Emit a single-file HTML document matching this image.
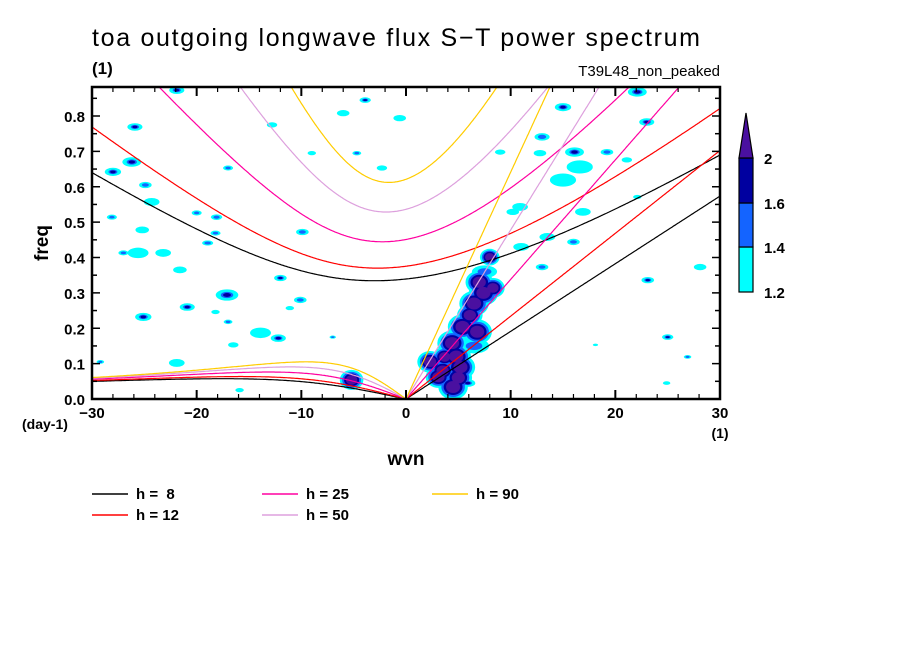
<!DOCTYPE html>
<html><head><meta charset="utf-8"><style>
html,body{margin:0;padding:0;background:#fff;}
svg{display:block;font-family:"Liberation Sans",sans-serif;}
</style></head><body>
<svg id="chart" width="904" height="654" viewBox="0 0 904 654">
<rect width="904" height="654" fill="#fff"/>
<defs><clipPath id="clip"><rect x="92" y="87" width="628" height="312"/></clipPath></defs>
<text x="92" y="46" font-size="25" textLength="608" lengthAdjust="spacing">toa outgoing longwave flux S−T power spectrum</text>
<text x="92" y="74" font-size="17" font-weight="bold">(1)</text>
<text x="720" y="76" font-size="15" text-anchor="end">T39L48_non_peaked</text>
<g id="blobs" clip-path="url(#clip)"></g>
<g id="curves" clip-path="url(#clip)"></g>
<g id="axes"></g>
<text transform="translate(48,243) rotate(-90)" font-size="19" font-weight="bold" text-anchor="middle">freq</text>
<text x="22" y="429" font-size="14" font-weight="bold">(day-1)</text>
<text x="720" y="438" font-size="14" font-weight="bold" text-anchor="middle">(1)</text>
<text x="406" y="465" font-size="19" font-weight="bold" text-anchor="middle">wvn</text>
<g id="legend"></g>
<g id="cbar"></g>
</svg>
<script>
const NS="http://www.w3.org/2000/svg";
const depths=[8,12,25,50,90];
const depthColors=["#000000","#ff0000","#ff00a0","#dda0dd","#ffcc00"];
const xTicks=[-30,-20,-10,0,10,20,30];
const yTicks=[0,0.1,0.2,0.3,0.4,0.5,0.6,0.7,0.8];
const cbarLevels=[1.2,1.4,1.6,2];
const blobS=[-25.9,-26.2,-28.0,-24.9,-24.3,-28.1,-25.2,-25.6,-23.2,-27.0,-21.6,-20.9,-25.1,-21.9,-29.2,-21.9,-20.0,-18.9,-3.9,-0.6,-6.0,-12.8,-17.0,-18.1,-18.2,-19.0,-9.9,-12.0,-17.1,-10.1,-11.1,-18.2,-17.0,-13.9,-12.2,-16.5,-7.0,-15.9,-9.0,-4.7,-2.3,-5.2,
6.5,7.5,2.3,3.1,4.5,4.4,5.4,6.1,7.4,8.3,8.0,5.2,3.7,5.9,6.5,7.0,4.8,3.5,6.8,5.0,
22.1,15.0,13.0,16.1,23.0,19.2,21.1,16.6,15.0,10.9,16.9,13.5,16.0,13.0,28.1,23.1,25.0,26.9,24.9,18.1,22.1,9.0,12.8,10.2,11.0];
const blobF=[0.769,0.670,0.642,0.605,0.557,0.514,0.478,0.413,0.413,0.413,0.365,0.260,0.232,0.102,0.105,0.873,0.526,0.441,0.845,0.794,0.808,0.775,0.653,0.514,0.469,0.441,0.472,0.342,0.294,0.280,0.257,0.246,0.218,0.187,0.172,0.153,0.175,0.025,0.695,0.695,0.653,0.054,
0.15,0.36,0.105,0.062,0.034,0.158,0.204,0.237,0.300,0.314,0.401,0.090,0.119,0.045,0.27,0.33,0.12,0.08,0.19,0.06,
0.868,0.825,0.741,0.698,0.783,0.698,0.676,0.656,0.619,0.543,0.529,0.458,0.444,0.373,0.373,0.336,0.175,0.119,0.045,0.153,0.571,0.698,0.695,0.529,0.43];
const blobLvl=[3,3,3,2,1,2,1,1,1,2,1,3,3,1,2,3,2,2,3,1,1,1,2,2,2,2,2,3,3,2,1,1,2,1,3,1,2,1,1,2,1,4,
2,2,4,4,4,4,4,4,4,4,4,4,4,3,4,4,4,4,4,4,
3,3,2,3,3,2,1,1,1,1,1,1,2,2,1,3,3,2,1,1,1,1,1,1,1];
const blobR=[1.2,1.5,1.3,1.0,1.5,0.8,1.3,2.0,1.5,0.8,1.3,1.2,1.3,1.5,0.6,1.2,0.8,0.8,0.9,1.2,1.2,1.0,0.8,0.9,0.8,0.8,1.0,1.0,1.8,1.0,0.8,0.8,0.7,2.0,1.2,1.0,0.5,0.8,0.8,0.7,1.0,1.2,
2.4,2.0,1.3,1.3,1.5,1.5,1.5,1.3,1.5,1.2,1.0,1.5,1.2,1.2,1.5,1.4,1.5,1.3,1.5,1.4,
1.5,1.3,1.2,1.5,1.2,1.0,1.0,2.5,2.5,1.5,1.5,1.5,1.0,1.0,1.2,1.0,0.9,0.6,0.7,0.5,0.8,1.0,1.2,1.2,1.5];
const X0=92,X1=720,Y0=399,YPER=353.75;
function xs(s){return X0+(s+30)/60*(X1-X0);}
function ys(f){return Y0-f*YPER;}
function el(tag,attrs,parent){const e=document.createElementNS(NS,tag);for(const k in attrs)e.setAttribute(k,attrs[k]);parent.appendChild(e);return e;}
// blobs
const lvlColors=["#00ffff","#1464ff","#0000a0","#4a10a0"];
const lvlScale=[1,0.55,0.35,0.3];
const strongScale=[1.25,1.0,0.8,0.6];
const gB=document.getElementById('blobs');
for(let L=0;L<4;L++){
 for(let i=0;i<blobS.length;i++){
  if(blobLvl[i]<L+1)continue;
  const strong=blobLvl[i]===4;
  const sc=strong?strongScale[L]:lvlScale[L];
  const base=blobR[i]*10.47*(strong?0.75:(blobLvl[i]===1?0.5:0.6));
  const rx=base*sc;
  const e=el('ellipse',{cx:xs(blobS[i]),cy:ys(blobF[i]),rx:rx,ry:rx*(strong?0.85:0.5),fill:lvlColors[L]},gB);
  
  
 }
}
// dispersion curves
const a=6.371e6,beta=2*7.292e-5/a,cpd=86400/(2*Math.PI);
const gC=document.getElementById('curves');
depths.forEach((h,di)=>{
 const c=Math.sqrt(9.81*h);
 const ig=[],er=[],kel=[];
 for(let n=0;n<=600;n++){
  const s=-30+n*0.1;
  const k=s/a;
  const p=-(c*c*k*k+3*beta*c),q=-beta*c*c*k;
  const m=2*Math.sqrt(-p/3);
  let arg=(3*q/(2*p))*Math.sqrt(-3/p);arg=Math.max(-1,Math.min(1,arg));
  const th=Math.acos(arg)/3;
  const r0=m*Math.cos(th),r1=m*Math.cos(th-2*Math.PI/3);
  ig.push([xs(s),ys(r0*cpd)]);
  if(n<=300)er.push([xs(s),ys(Math.max(0,r1)*cpd)]);
  if(n>=300)kel.push([xs(s),ys(c*k*cpd)]);
 }
 [ig,er,kel].forEach((pts,j)=>{
  const e=el('polyline',{points:pts.map(p=>p[0].toFixed(1)+','+p[1].toFixed(1)).join(' '),fill:'none',stroke:depthColors[di],'stroke-width':1.2},gC);
  
  
 });
});
// axes
const gA=document.getElementById('axes');
const fr=el('rect',{x:X0,y:87,width:X1-X0,height:Y0-87,fill:'none',stroke:'#000','stroke-width':2.5},gA);


for(let s=-30;s<=30;s+=2){
 const major=s%10===0;const len=major?9:5;
 el('line',{x1:xs(s),y1:Y0,x2:xs(s),y2:Y0-len,stroke:'#000','stroke-width':major?2:1.2},gA);
 el('line',{x1:xs(s),y1:87,x2:xs(s),y2:87+len,stroke:'#000','stroke-width':major?2:1.2},gA);
}
for(let i=0;i<=17;i++){
 const f=i*0.05;const major=i%2===0;const len=major?8:5;
 el('line',{x1:X0,y1:ys(f),x2:X0+len,y2:ys(f),stroke:'#000','stroke-width':1.5},gA);
 el('line',{x1:X1,y1:ys(f),x2:X1-len,y2:ys(f),stroke:'#000','stroke-width':1.5},gA);
}
xTicks.forEach(v=>{
 const t=el('text',{x:xs(v),y:418,'font-size':15,'font-weight':'bold','text-anchor':'middle'},gA);t.textContent=(v<0?'−':'')+Math.abs(v);
 
 
});
yTicks.forEach(v=>{
 const t=el('text',{x:85,y:ys(v)+6,'font-size':15,'font-weight':'bold','text-anchor':'end'},gA);t.textContent=v.toFixed(1);
 
 
});
// legend
const gL=document.getElementById('legend');
const legPos=[[92,494],[92,515],[262,494],[262,515],[432,494]];
depths.forEach((h,i)=>{
 const x=legPos[i][0],y=legPos[i][1];
 const g=el('g',{},gL);
 
 
 el('line',{x1:x,y1:y,x2:x+36,y2:y,stroke:depthColors[i],'stroke-width':1.5},g);
 const t=el('text',{x:x+44,y:y+5,'font-size':15,'font-weight':'bold'},g);
 t.setAttribute('style','white-space:pre');
 t.textContent='h = '+(h<10?' ':'')+h;
});
// colorbar
const gK=document.getElementById('cbar');
const segs=[[247,292,'#00ffff'],[203,247,'#1464ff'],[158,203,'#0000a0']];
segs.forEach(s=>{const r=el('rect',{x:739,y:s[0],width:14,height:s[1]-s[0],fill:s[2],stroke:'#000','stroke-width':1.2},gK);
 });
const tri=el('polygon',{points:'739,158 753,158 746,113',fill:'#4a10a0',stroke:'#000','stroke-width':1.2},gK);


const cbY=[292,247,203,158];
cbarLevels.forEach((v,i)=>{const t=el('text',{x:764,y:cbY[i]+6,'font-size':15,'font-weight':'bold'},gK);t.textContent=String(v);
 });
</script>
</body></html>
